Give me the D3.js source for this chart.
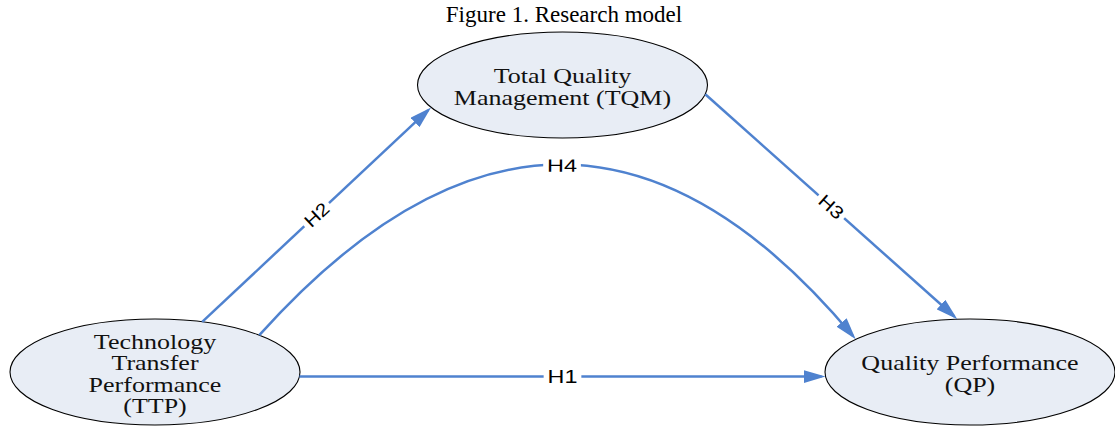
<!DOCTYPE html>
<html lang="en">
<head>
<meta charset="UTF-8">
<title>Figure 1. Research model</title>
<script src="https://d3js.org/d3.v7.min.js"></script>
<style>
  body { margin: 0; background: #fff; }
  svg { display: block; }
  .title { font-family: "Liberation Serif", "Times New Roman", serif; font-size: 23px; fill: #000; }
  .node-text { font-family: "Liberation Serif", "Times New Roman", serif; font-size: 20px; fill: #111; }
  .hyp { font-family: "Liberation Sans", Arial, sans-serif; font-size: 18px; fill: #000; }
</style>
</head>
<body>
<svg id="chart" width="1115" height="427"></svg>
<script>
// ---- data ----
const title = "Figure 1. Research model";
const constructs = ["TTP", "TQM", "QP"];
const constructLabels = [
  ["Technology", "Transfer", "Performance", "(TTP)"],
  ["Total Quality", "Management (TQM)"],
  ["Quality Performance", "(QP)"]
];
const hypotheses = ["H1", "H2", "H3", "H4"];
const hypothesisFrom = ["TTP", "TTP", "TQM", "TTP"];
const hypothesisTo = ["QP", "TQM", "QP", "QP"];

// ---- layout ----
const grid = { TTP: [0, 0], TQM: [1, 1], QP: [2, 0] };   // column, row
const x = d3.scaleLinear().domain([0, 2]).range([155, 970]);
const y = d3.scaleLinear().domain([0, 1]).range([372, 85]);
const rx = 145, ry = 53;
const stretch = 1.3;          // text in the original figure is drawn wide
const lineGap = 21.6;
const blue = "#4f82cf";
// angle (deg) where each arrow leaves the source and meets the target ellipse
const ports = { H1: [-5, 185], H2: [71, 205], H3: [-10, 95], H4: [44, 142] };
const bend = { H4: [9, -344] };   // control point offset from chord midpoint
const headLen = 22, headHalf = 6.5, pull = 4;

const svg = d3.select("#chart");

svg.append("text")
  .attr("class", "title")
  .attr("x", 564).attr("y", 22)
  .attr("text-anchor", "middle")
  .text(title);

svg.append("defs").append("marker")
  .attr("id", "head")
  .attr("markerUnits", "userSpaceOnUse")
  .attr("viewBox", `0 ${-headHalf} ${headLen} ${headHalf * 2}`)
  .attr("refX", headLen - pull).attr("refY", 0)
  .attr("markerWidth", headLen).attr("markerHeight", headHalf * 2)
  .attr("orient", "auto")
  .append("path")
  .attr("d", `M0,${-headHalf} L${headLen},0 L0,${headHalf} Z`)
  .attr("fill", blue);

function center(id) {
  return [x(grid[id][0]), y(grid[id][1])];
}
function onEllipse(id, deg) {
  const [cx, cy] = center(id), a = deg * Math.PI / 180;
  return [cx + rx * Math.cos(a), cy - ry * Math.sin(a)];
}

// ellipses first so arrows sit on top of the outline
const nodeG = svg.append("g").selectAll("g")
  .data(constructs)
  .join("g")
  .attr("transform", d => `translate(${center(d)})`);

nodeG.append("ellipse")
  .attr("rx", rx).attr("ry", ry)
  .attr("fill", "#e8edf5")
  .attr("stroke", "#000")
  .attr("stroke-width", 1.1);

nodeG.append("g")
  .attr("transform", `translate(0,2) scale(${stretch},1)`)
  .selectAll("text")
  .data((d, i) => constructLabels[i].map((t, j, arr) => ({ t, off: (j - (arr.length - 1) / 2) * lineGap })))
  .join("text")
  .attr("class", "node-text")
  .attr("text-anchor", "middle")
  .attr("y", d => d.off)
  .attr("dy", "0.35em")
  .text(d => d.t);

// arrows
const edges = hypotheses.map((h, i) => {
  const p0 = onEllipse(hypothesisFrom[i], ports[h][0]);
  const p1 = onEllipse(hypothesisTo[i], ports[h][1]);
  let c = null;
  if (bend[h]) c = [(p0[0] + p1[0]) / 2 + bend[h][0], (p0[1] + p1[1]) / 2 + bend[h][1]];
  const from = c || p0;
  const dx = p1[0] - from[0], dy = p1[1] - from[1], len = Math.hypot(dx, dy);
  const end = [p1[0] - pull * dx / len, p1[1] - pull * dy / len];
  const path = d3.path();
  path.moveTo(p0[0], p0[1]);
  if (c) path.quadraticCurveTo(c[0], c[1], end[0], end[1]);
  else path.lineTo(end[0], end[1]);
  // label spot and angle
  let lp, ang;
  if (c) {
    lp = [0.25 * p0[0] + 0.5 * c[0] + 0.25 * p1[0], 0.25 * p0[1] + 0.5 * c[1] + 0.25 * p1[1]];
    ang = Math.atan2(p1[1] - p0[1], p1[0] - p0[0]);
  } else {
    lp = [(p0[0] + p1[0]) / 2, (p0[1] + p1[1]) / 2];
    ang = Math.atan2(dy, dx);
  }
  return { h, d: path.toString(), lp, ang };
});

svg.append("g").selectAll("path")
  .data(edges)
  .join("path")
  .attr("d", d => d.d)
  .attr("fill", "none")
  .attr("stroke", blue)
  .attr("stroke-width", 2.5)
  .attr("marker-end", "url(#head)");

const lab = svg.append("g").selectAll("g")
  .data(edges)
  .join("g")
  .attr("transform", d => {
    const sx = Math.hypot(stretch * Math.cos(d.ang), Math.sin(d.ang));
    return `translate(${d.lp}) rotate(${d.ang * 180 / Math.PI}) scale(${sx},1)`;
  });

lab.append("rect").attr("fill", "#fff");
lab.append("text")
  .attr("class", "hyp")
  .attr("text-anchor", "middle")
  .attr("dy", "0.36em")
  .text(d => d.h);
lab.each(function () {
  const g = d3.select(this);
  const b = g.select("text").node().getBBox();
  g.select("rect")
    .attr("x", b.x - 3).attr("y", b.y + 2)
    .attr("width", b.width + 6).attr("height", b.height - 4);
});
</script>
</body>
</html>
